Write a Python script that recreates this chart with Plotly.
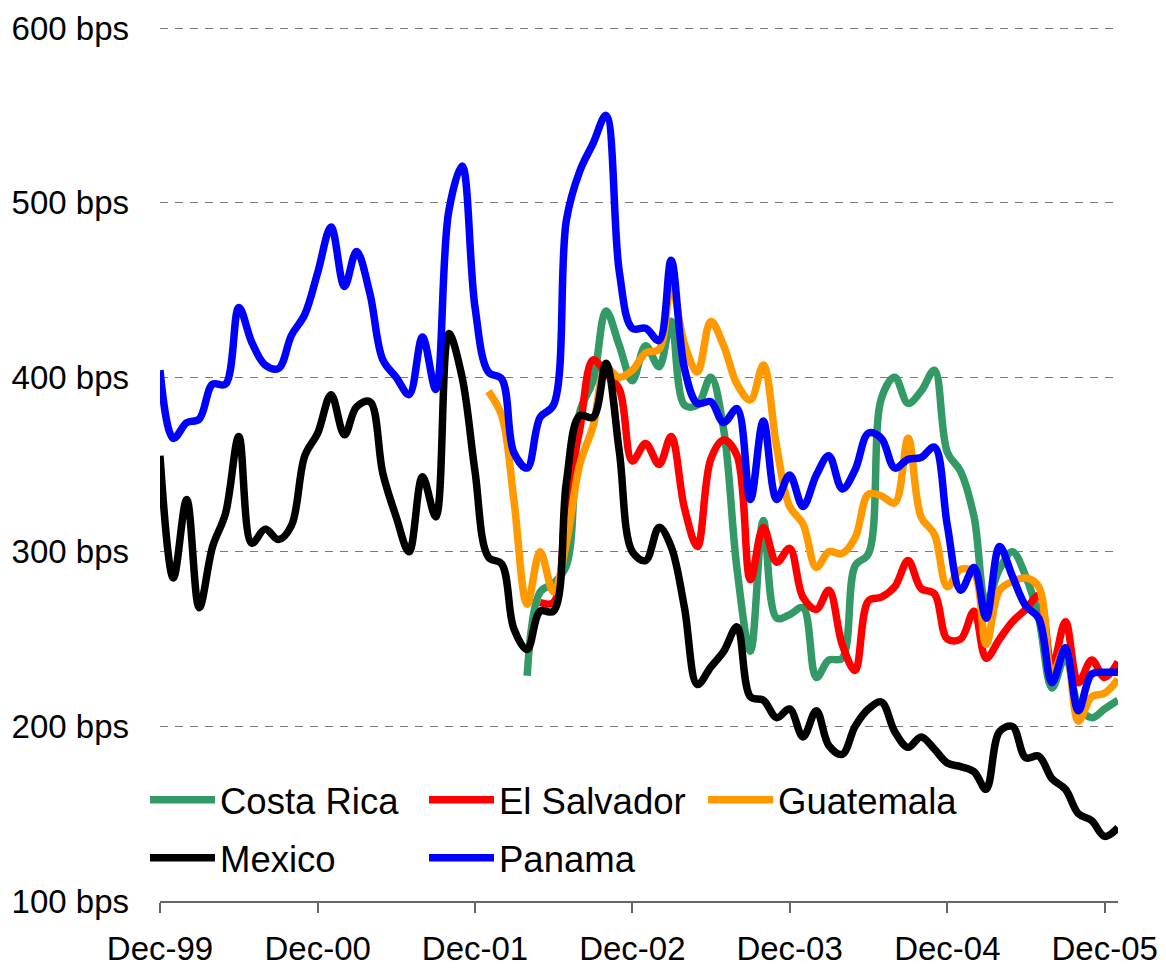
import pandas as pd
import plotly.graph_objects as go

dates = pd.date_range("1999-12-01", periods=74, freq="MS")

tick_dates = ["1999-12-01", "2000-12-01", "2001-12-01", "2002-12-01",
              "2003-12-01", "2004-12-01", "2005-12-01"]
tick_labels = ["Dec-99", "Dec-00", "Dec-01", "Dec-02", "Dec-03", "Dec-04", "Dec-05"]
y_ticks = [100, 200, 300, 400, 500, 600]
y_labels = ["100 bps", "200 bps", "300 bps", "400 bps", "500 bps", "600 bps"]

mexico = [355, 285, 330, 268, 303, 322, 366, 305, 313, 307,
          315, 355, 368, 390, 367, 383, 386, 345, 320, 300,
          343, 320, 425, 400, 346, 297, 293, 256, 244, 266,
          266, 340, 378, 377, 408, 357, 300, 295, 314, 303,
          268, 224, 234, 243, 257, 217, 215, 205, 210, 194,
          209, 189, 184, 200, 210, 214, 197, 188, 194, 187,
          179, 177, 174, 164, 197, 200, 182, 183, 170, 164,
          150, 146, 137, 142]

panama = [404, 365, 374, 376, 396, 396, 440, 420, 407, 405,
          424, 436, 460, 486, 452, 472, 448, 410, 400, 390,
          423, 393, 495, 521, 440, 403, 399, 357, 348, 377,
          384, 490, 518, 534, 550, 460, 428, 428, 421, 467,
          405, 385, 386, 374, 382, 330, 375, 330, 344, 326,
          344, 355, 336, 347, 368, 365, 348, 353, 354, 360,
          315, 278, 291, 262, 303, 286, 269, 262, 225, 245,
          209, 230, 231, 231]

guatemala = [None] * 25 + [
          392, 378, 330, 270, 300,
          277, 305, 350, 372, 405, 400, 404, 414, 416, 453,
          419, 403, 432, 418, 396, 387, 407, 360, 326, 316,
          291, 300, 299, 308, 333, 332, 328, 365, 320, 310,
          280, 290, 288, 247, 278, 283, 285, 280, 230, 245,
          203, 217, 219, 227]

costa_rica = [None] * 28 + [
          229, 277,
          282, 292, 380, 398, 438, 418, 398, 418, 406, 432,
          384, 384, 400, 370, 290, 243, 318, 262, 264, 268,
          228, 238, 239, 292, 299, 388, 400, 385, 392, 404,
          357, 346, 320, 271, 290, 300, 286, 262, 222, 240,
          212, 205, 210, 215]

el_salvador = [None] * 29 + [
          271,
          271, 330, 370, 410, 402, 393, 352, 362, 350, 366,
          325, 303, 353, 364, 355, 284, 314, 294, 302, 274,
          267, 278, 247, 232, 272, 274, 280, 295, 279, 276,
          250, 250, 266, 239, 250, 260, 267, 275, 234, 260,
          225, 238, 228, 237]

# (name, values, colour, legend row)
series = [
    ("Costa Rica", costa_rica, "#339966", "legend"),
    ("El Salvador", el_salvador, "#FF0000", "legend"),
    ("Guatemala", guatemala, "#FF9900", "legend"),
    ("Mexico", mexico, "#000000", "legend2"),
    ("Panama", panama, "#0000FF", "legend2"),
]

fig = go.Figure()
for name, vals, color, leg in series:
    fig.add_trace(go.Scatter(
        x=dates, y=vals, name=name, mode="lines", legend=leg,
        line=dict(color=color, width=7.5, shape="spline", smoothing=1),
        connectgaps=False,
    ))

FONT = "Arial, Liberation Sans, sans-serif"
leg_common = dict(
    orientation="h", xref="container", yref="container",
    x=0.1175, xanchor="left", yanchor="middle",
    bgcolor="rgba(0,0,0,0)", itemwidth=65,
    entrywidth=199, entrywidthmode="pixels",
    font=dict(family=FONT, size=36.5, color="black"),
    traceorder="normal",
)
fig.update_layout(
    width=1166, height=969,
    margin=dict(l=152, r=56, t=19, b=76, autoexpand=False),
    paper_bgcolor="white", plot_bgcolor="white",
    font=dict(family=FONT, size=33, color="black"),
    showlegend=True,
    legend=dict(leg_common, y=1 - 792 / 969),
    legend2=dict(leg_common, y=1 - 850 / 969),
    xaxis=dict(
        range=["1999-12-01", "2006-01-01"],
        tickvals=tick_dates, ticktext=tick_labels,
        showgrid=False, zeroline=False,
        showline=True, linecolor="#666666", linewidth=1.5,
        ticks="outside", ticklen=10, tickcolor="#666666", tickwidth=1.5,
        ticklabelstandoff=8,
        tickfont=dict(family=FONT, size=33, color="black"),
    ),
    yaxis=dict(
        range=[100, 600.6], tickvals=y_ticks, ticktext=y_labels,
        showgrid=True, gridcolor="#7a7a7a", gridwidth=1, griddash="8px,7px",
        zeroline=False, showline=False, ticks="",
        ticklabelstandoff=30,
        tickfont=dict(family=FONT, size=33, color="black"),
    ),
)

fig.write_html("out.html")
